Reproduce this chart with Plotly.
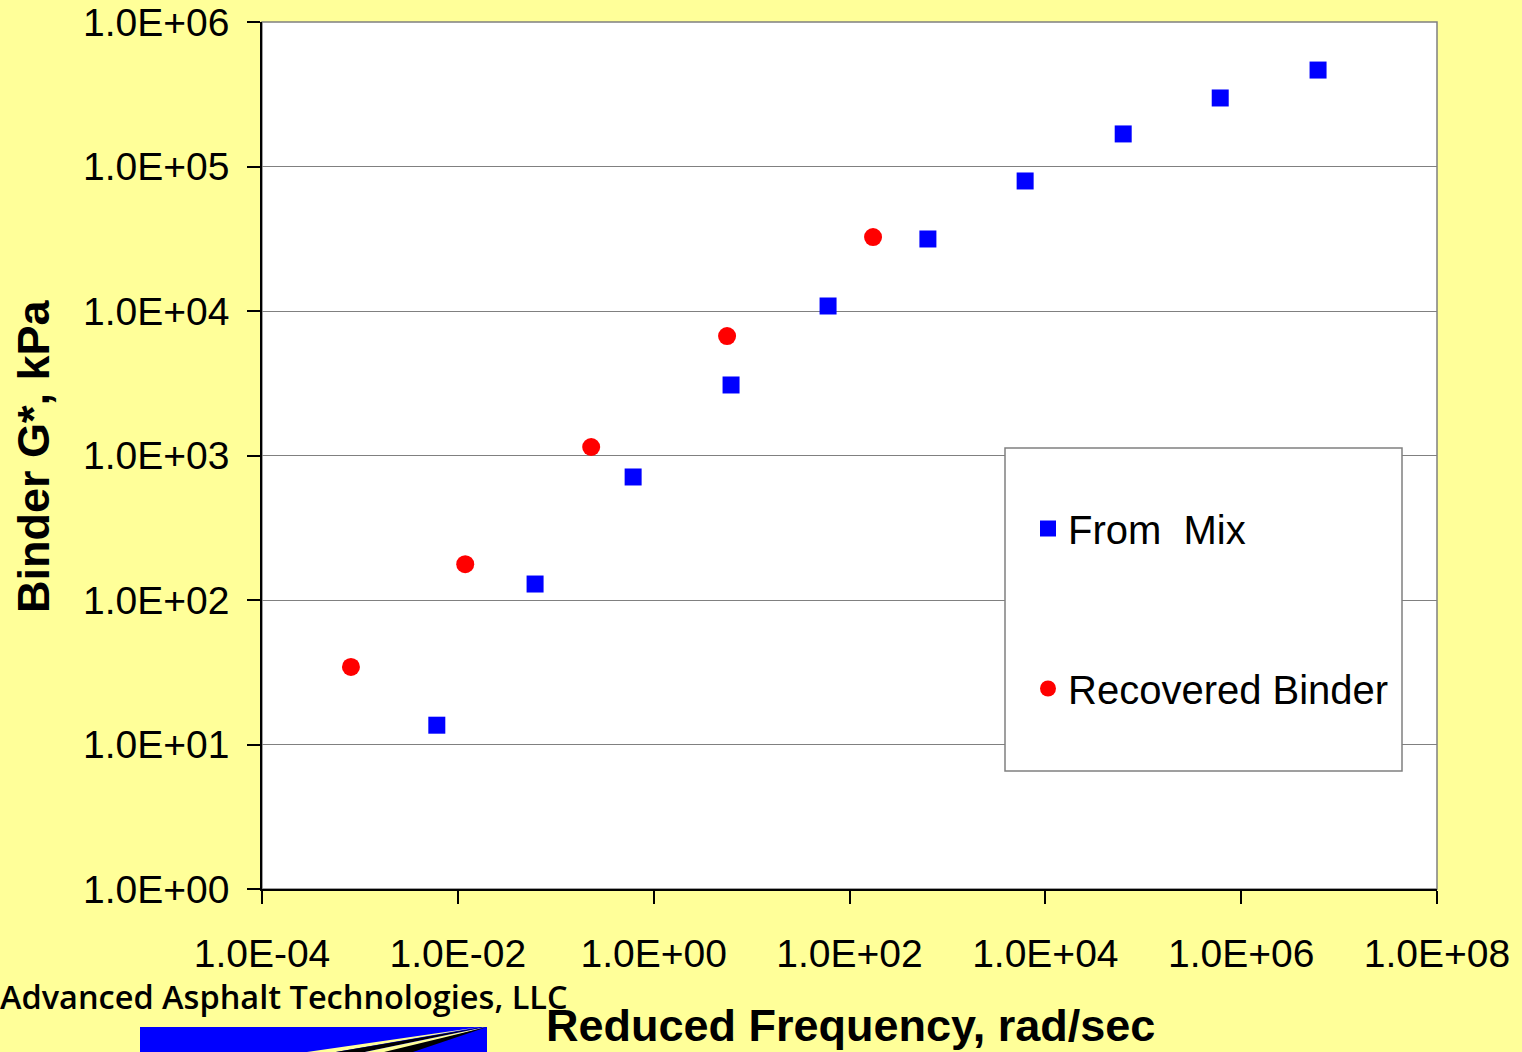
import plotly.graph_objects as go

# ---- data ----
mix_freq = [6.1e-3, 0.0615, 0.617, 6.17, 60.4, 632, 6220, 62400, 6.11e5, 6.1e6]
mix_g = [13.6, 129, 710, 3076, 10830, 31500, 79400, 168000, 298000, 465000]

rec_freq = [8.1e-4, 0.0119, 0.23, 5.62, 174]
rec_g = [34.4, 177, 1145, 6710, 32500]

x_ticks = [1e-4, 1e-2, 1e0, 1e2, 1e4, 1e6, 1e8]
x_tick_text = ["1.0E-04", "1.0E-02", "1.0E+00", "1.0E+02", "1.0E+04", "1.0E+06", "1.0E+08"]
y_ticks = [1e0, 1e1, 1e2, 1e3, 1e4, 1e5, 1e6]
y_tick_text = ["1.0E+00", "1.0E+01", "1.0E+02", "1.0E+03", "1.0E+04", "1.0E+05", "1.0E+06"]

W, H = 1522, 1052
L, R, T, B = 262, 1437, 22, 889  # plot area in pixels


def px(x):
    return (x - L) / (R - L)


def py(y):
    return (B - y) / (B - T)


fig = go.Figure()
fig.add_trace(go.Scatter(
    x=mix_freq, y=mix_g, mode="markers", name="From  Mix", legendgroup="a",
    marker=dict(symbol="square", size=17, color="#0000FF", line=dict(width=0)),
))
fig.add_trace(go.Scatter(
    x=rec_freq, y=rec_g, mode="markers", name="Recovered Binder", legendgroup="b",
    marker=dict(symbol="circle", size=18, color="#FF0000", line=dict(width=0)),
))

shapes = [
    # plot border (gray)
    dict(type="rect", xref="paper", yref="paper", x0=0, y0=0, x1=1, y1=1,
         line=dict(color="#808080", width=1.5), layer="below"),
    # legend box
    dict(type="rect", xref="paper", yref="paper", x0=px(1005), x1=px(1402),
         y0=py(771), y1=py(448), fillcolor="white",
         line=dict(color="#808080", width=1.5), layer="above"),
    # logo: blue bar
    dict(type="rect", xref="paper", yref="paper", x0=px(140), x1=px(487),
         y0=py(1060), y1=py(1027), fillcolor="#0000FF", line=dict(width=0), layer="above"),
]
# logo swooshes
for (xa, xb, col) in [(300, 480, "#FFFF99"), (330, 484, "black"), (360, 486, "#FFFF99"), (380, 487, "black")]:
    shapes.append(dict(
        type="path", xref="paper", yref="paper",
        path=f"M {px(xa)} {py(1053)} L {px(xb)} {py(1027)} L {px(xa+30)} {py(1053)} Z",
        fillcolor=col, line=dict(width=0), layer="above"))

fig.update_layout(
    width=W, height=H,
    margin=dict(l=L, r=W - R, t=T, b=H - B, pad=0, autoexpand=False),
    paper_bgcolor="#FFFF99", plot_bgcolor="white",
    font=dict(family="Liberation Sans, Arial, sans-serif", color="black", size=39),
    showlegend=True,
    legend=dict(
        x=px(1028), y=py(496), xanchor="left", yanchor="top",
        bgcolor="rgba(0,0,0,0)", borderwidth=0,
        font=dict(size=40), tracegroupgap=105, traceorder="grouped",
    ),
    xaxis=dict(
        type="log", range=[-4, 8], tickvals=x_ticks, ticktext=x_tick_text,
        showgrid=False, zeroline=False, showline=True, linecolor="black", linewidth=1.5,
        ticks="outside", ticklen=13, tickcolor="black", tickwidth=1.5,
        ticklabelstandoff=16, tickfont=dict(size=39), automargin=False,
    ),
    yaxis=dict(
        type="log", range=[0, 6], tickvals=y_ticks, ticktext=y_tick_text,
        showgrid=True, gridcolor="#808080", gridwidth=1.2, zeroline=False,
        showline=True, linecolor="black", linewidth=1.5,
        ticks="outside", ticklen=13, tickcolor="black", tickwidth=1.5,
        ticklabelstandoff=10, tickfont=dict(size=39), automargin=False,
    ),
    shapes=shapes,
    annotations=[
        dict(text="<b>Binder G*, kPa</b>", xref="paper", yref="paper",
             x=px(33), y=py(456), textangle=-90, showarrow=False,
             font=dict(size=45, family="Liberation Sans, Arial, sans-serif"),
             xanchor="center", yanchor="middle"),
        dict(text="<b>Reduced Frequency, rad/sec</b>", xref="paper", yref="paper",
             x=px(850), y=py(1025), showarrow=False,
             font=dict(size=45, family="Liberation Sans, Arial, sans-serif"),
             xanchor="center", yanchor="middle"),
        dict(text="Advanced Asphalt Technologies, LLC", xref="paper", yref="paper",
             x=px(-2), y=py(996), showarrow=False,
             font=dict(size=32.5, family="Open Sans, sans-serif", weight=600),
             xanchor="left", yanchor="middle"),
    ],
)

fig.write_html("out.html")
